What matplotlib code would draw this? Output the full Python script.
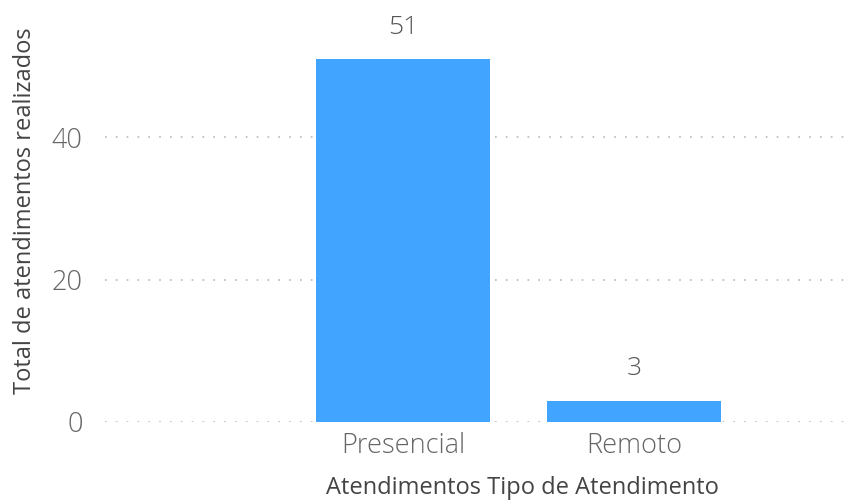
import matplotlib.pyplot as plt

# Atendimentos por tipo
tipos = ['Presencial', 'Remoto']
totais = [51, 3]
yticks = [0, 20, 40]

plt.rcParams['font.family'] = ['Open Sans', 'DejaVu Sans']

fig = plt.figure(figsize=(8.46, 5.01), dpi=100)
ax = fig.add_axes([105 / 846, 1 - 422 / 501, 740 / 846, 422 / 501])

pos = list(range(len(tipos)))
ax.bar(pos, totais, width=0.755, color='#41A4FF', zorder=3)

# rótulos de valor acima das barras
for x, v in zip(pos, totais):
    ax.annotate(str(v), (x, v), xytext=(0, 23), textcoords='offset points',
                ha='center', va='center', fontsize=19, color='#555555',
                fontweight='light')

ax.set_xlim(-1.29, 1.913)
ax.set_ylim(0, 59.3)
ax.set_xticks(pos)
ax.set_xticklabels(tipos, fontsize=19.5, color='#666666', fontweight='light')
ax.set_yticks(yticks)
ax.set_yticklabels([str(t) for t in yticks], fontsize=19.5, color='#666666',
                   fontweight='light')
ax.tick_params(axis='both', length=0)
ax.tick_params(axis='y', pad=16)
ax.tick_params(axis='x', pad=7)

ax.grid(axis='y', linestyle=(0, (1, 5.5)), color='#b8b8b8', linewidth=1.2, zorder=0)
for s in ax.spines.values():
    s.set_visible(False)

ax.set_ylabel('Total de atendimentos realizados', fontsize=17, color='#444444')
ax.yaxis.set_label_coords((37 - 105) / 740, (422 - 211) / 422)
ax.set_xlabel('Atendimentos Tipo de Atendimento', fontsize=17, color='#444444')
ax.xaxis.set_label_coords((522 - 105) / 740, -(476 - 422) / 422)

fig.savefig('out.png', dpi=100)
